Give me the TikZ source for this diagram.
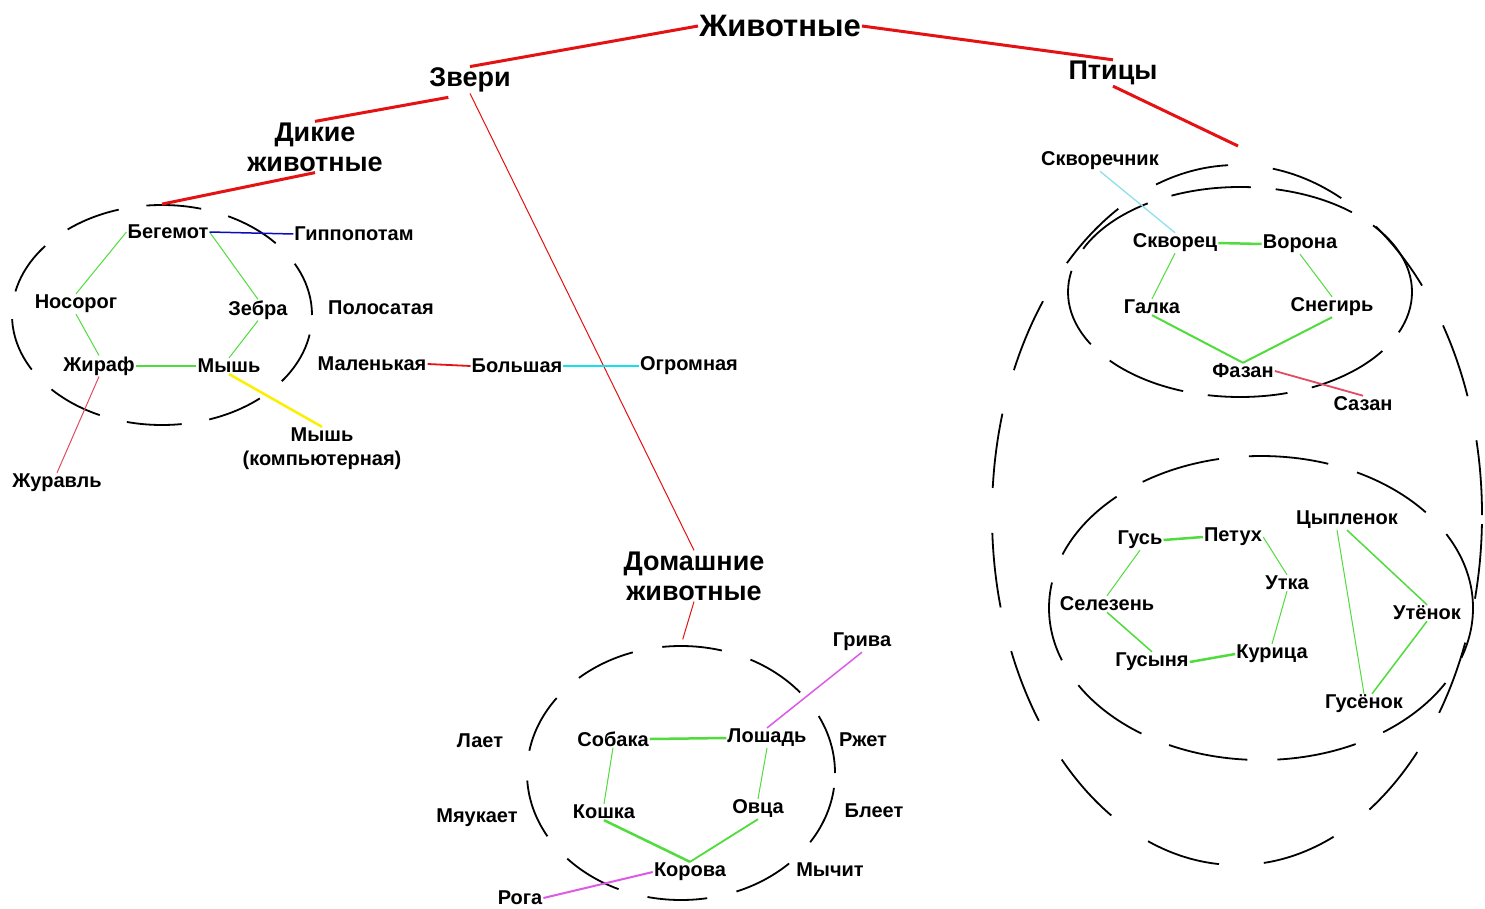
\documentclass[tikz,border=0pt]{standalone}
\usepackage{fontspec}
\setmainfont{Liberation Sans}
\usetikzlibrary{shapes.geometric}
\definecolor{lred}{RGB}{228,18,18}
\definecolor{lgreen}{RGB}{80,220,60}
\definecolor{lcyan}{RGB}{20,225,235}
\definecolor{pcyan}{RGB}{140,225,235}
\definecolor{lblue}{RGB}{10,10,190}
\definecolor{lyellow}{RGB}{250,240,0}
\definecolor{lmag}{RGB}{220,90,230}
\definecolor{lpink}{RGB}{225,75,100}
\tikzset{
  lbl/.style={font=\bfseries\fontsize{20}{24}\selectfont, inner sep=1pt, align=center},
  big/.style={font=\bfseries\fontsize{27}{30}\selectfont, inner sep=1pt, align=center},
  topl/.style={font=\bfseries\fontsize{31}{34}\selectfont, inner sep=1pt},
  grp/.style={draw, ellipse, line width=1.8pt, inner sep=0pt},
  redthick/.style={draw=lred, line width=3pt},
  redthin/.style={draw=lred, line width=1pt},
  gthick/.style={draw=lgreen, line width=2.5pt},
  gthin/.style={draw=lgreen, line width=1pt},
}
\begin{document}
\begin{tikzpicture}[x=1pt,y=-1pt]
\useasboundingbox (0,0) rectangle (1485,909);
\fill[white] (0,0) rectangle (1485,909);

% group ellipses
\node[grp, minimum width=300pt, minimum height=220pt, dash pattern=on 55pt off 28pt] (lell) at (162,315) {};
\node[grp, minimum width=308pt, minimum height=254pt, dash pattern=on 60pt off 30pt] (mell) at (681,773) {};
\node[grp, minimum width=490pt, minimum height=700pt, dash pattern=on 75pt off 45pt] (bout) at (1237,515) {};
\node[grp, minimum width=344pt, minimum height=210pt, dash pattern=on 80pt off 25pt] (btop) at (1240,292) {};
\node[grp, minimum width=424pt, minimum height=304pt, dash pattern=on 80pt off 30pt] (bbot) at (1261,608) {};
\coordinate (ptend) at (1238,146);

% hierarchy labels
\node[topl] (zh) at (780,26) {Животные};
\node[big] (zv) at (470,80) {Звери};
\node[big] (pt) at (1113,73) {Птицы};
\node[big] (dik) at (315,147) {Дикие\\животные};
\node[big] (dom) at (694,576) {Домашние\\животные};

% wild animals
\node[lbl] (beg) at (168,232) {Бегемот};
\node[lbl] (gip) at (354,234) {Гиппопотам};
\node[lbl] (nos) at (76,304) {Носорог};
\node[lbl] (zeb) at (258,310) {Зебра};
\node[lbl] (zhir) at (99,366) {Жираф};
\node[lbl] (mysh) at (229,366) {Мышь};
\node[lbl] (pol) at (381,308) {Полосатая};
\node[lbl] (mal) at (372,364) {Маленькая};
\node[lbl] (bol) at (517,366) {Большая};
\node[lbl] (ogr) at (689,366) {Огромная};
\node[lbl] (mk) at (322,449) {Мышь\\(компьютерная)};
\node[lbl] (zhur) at (57,483) {Журавль};

% domestic animals
\node[lbl] (sob) at (613,739) {Собака};
\node[lbl] (losh) at (767,738) {Лошадь};
\node[lbl] (kosh) at (604,812) {Кошка};
\node[lbl] (ovca) at (758,809) {Овца};
\node[lbl] (kor) at (690,872) {Корова};
\node[lbl] (griva) at (862,642) {Грива};
\node[lbl] (roga) at (520,898) {Рога};
\node[lbl] (laet) at (480,741) {Лает};
\node[lbl] (myau) at (477,818) {Мяукает};
\node[lbl] (rzhet) at (863,740) {Ржет};
\node[lbl] (bleet) at (874,811) {Блеет};
\node[lbl] (mych) at (830,870) {Мычит};

% birds top
\node[lbl] (skvn) at (1100,161) {Скворечник};
\node[lbl] (skv) at (1175,243) {Скворец};
\node[lbl] (vor) at (1300,244) {Ворона};
\node[lbl] (galka) at (1152,307) {Галка};
\node[lbl] (sneg) at (1332,307) {Снегирь};
\node[lbl] (fazan) at (1243,371) {Фазан};
\node[lbl] (sazan) at (1363,404) {Сазан};

% birds bottom
\node[lbl] (gus) at (1140,540) {Гусь};
\node[lbl] (petuh) at (1233,537) {Петух};
\node[lbl] (cyp) at (1347,520) {Цыпленок};
\node[lbl] (utka) at (1287,583) {Утка};
\node[lbl] (sel) at (1107,604) {Селезень};
\node[lbl] (uten) at (1427,613) {Утёнок};
\node[lbl] (gusynya) at (1152,662) {Гусыня};
\node[lbl] (kur) at (1272,654) {Курица};
\node[lbl] (gusen) at (1364,704) {Гусёнок};

% hierarchy connectors
\draw[redthick] (zh.west) -- (zv.north);
\draw[redthick] (zh.east) -- (pt.north);
\draw[redthick] (pt.south) -- (ptend);
\draw[redthick, shorten <=22pt] (zv.south) -- (dik.north);
\draw[redthin] (zv.south) -- (dom.north);
\draw[redthick] (dik.south) -- (lell.north);
\draw[redthin, shorten >=6pt] (dom.south) -- (mell.north);

% wild connectors
\draw[gthin] (beg.west) -- (nos.north);
\draw[gthin] (beg.east) -- (zeb.north);
\draw[gthin] (zeb.south) -- (mysh.north);
\draw[gthin] (nos.south) -- (zhir.north);
\draw[gthick] (zhir.east) -- (mysh.west);
\draw[draw=lblue, line width=1.5pt] (beg.east) -- (gip.west);
\draw[draw=lyellow, line width=2.5pt] (mysh.south) -- (mk.north);
\draw[draw=lpink, line width=1pt] (zhir.south) -- (zhur.north);
\draw[draw=lred, line width=1.8pt] (mal.east) -- (bol.west);
\draw[draw=lcyan, line width=2.2pt] (bol.east) -- (ogr.west);

% domestic connectors
\draw[gthick] (sob.east) -- (losh.west);
\draw[gthin] (sob.south) -- (kosh.north);
\draw[gthin] (losh.south) -- (ovca.north);
\draw[gthick] (kosh.south) -- (kor.north);
\draw[gthin, line width=1.8pt] (ovca.south) -- (kor.north);
\draw[draw=lmag, line width=1.5pt] (losh.north) -- (griva.south);
\draw[draw=lmag, line width=2pt] (kor.west) -- (roga.east);

% birds top connectors
\draw[draw=pcyan, line width=1.3pt] (skvn.south) -- (skv.north);
\draw[gthick] (skv.east) -- (vor.west);
\draw[gthin] (skv.south) -- (galka.north);
\draw[gthin] (vor.south) -- (sneg.north);
\draw[gthick, line width=2pt] (galka.south) -- (fazan.north);
\draw[gthick, line width=2pt] (sneg.south) -- (fazan.north);
\draw[draw=lpink, line width=1.8pt] (fazan.east) -- (sazan.north);

% birds bottom connectors
\draw[gthick] (gus.east) -- (petuh.west);
\draw[gthin] (gus.south) -- (sel.north);
\draw[gthin] (petuh.east) -- (utka.north);
\draw[gthin] (utka.south) -- (kur.north);
\draw[gthin, line width=1.5pt] (sel.south) -- (gusynya.north);
\draw[gthick] (gusynya.east) -- (kur.west);
\draw[gthin, line width=1.5pt] (cyp.south) -- (uten.north);
\draw[gthin] ([xshift=-10pt]cyp.south) -- (gusen.north);
\draw[gthin, line width=1.5pt] (uten.south) -- ([xshift=8pt]gusen.north);
\end{tikzpicture}
\end{document}
